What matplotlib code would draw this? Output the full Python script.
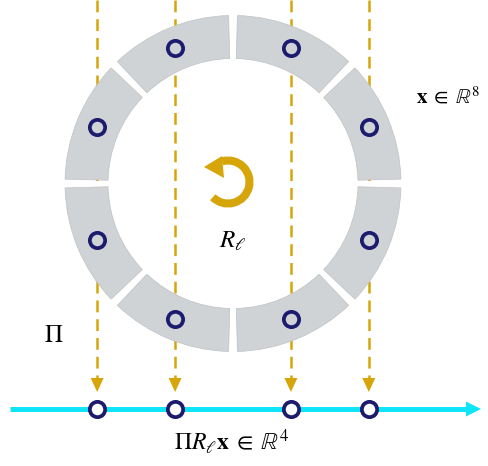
import numpy as np
import matplotlib
matplotlib.use('Agg')
import matplotlib.pyplot as plt
import matplotlib.patches as mpatches

plt.rcParams['mathtext.fontset'] = 'stix'
plt.rcParams['lines.scale_dashes'] = False

# ---- data -------------------------------------------------------------
# 8 coordinates of x placed around the ring (angle in degrees)
point_angles = [22.5, 66.8, 113.2, 157.5, 202.5, 246.8, 293.2, 337.5]
segment_starts = [0, 45, 90, 135, 180, 225, 270, 315]
segment_span = 45
label_x = r'$\mathbf{x}\;\in\;\mathbb{R}^8$'
label_rot = r'$R_\ell$'
label_proj = r'$\Pi$'
label_out = r'$\Pi R_\ell \mathbf{x}\;\in\;\mathbb{R}^4$'

# ---- styling / geometry ----------------------------------------------
W, H = 488, 466
CX, CY = 233, 282.5
R_OUT, R_IN = 168, 125
R_PT = 147
GAP = 3.0
LINE_Y = 57
SEG_COL = '#D0D3D5'
NAVY = '#1C1B6E'
GOLD = '#D6A50A'
CYAN = '#0FE4F8'

fig = plt.figure(figsize=(W / 100, H / 100), dpi=100)
ax = fig.add_axes([0, 0, 1, 1])
ax.set_xlim(0, W)
ax.set_ylim(0, H)
ax.axis('off')

# ring segments
for s in segment_starts:
    ax.add_patch(mpatches.Wedge((CX, CY), R_OUT, s + GAP / 2, s + segment_span - GAP / 2,
                                width=R_OUT - R_IN, facecolor=SEG_COL,
                                edgecolor='#BFC2C4', linewidth=0.5, zorder=2))

th = np.deg2rad(point_angles)
px = CX + R_PT * np.cos(th)
py = CY + R_PT * np.sin(th)
ax.plot(px, py, 'o', ms=11, mfc='none', mec=NAVY, mew=2.7, zorder=4)

# projection lines (dashed, behind the ring)
proj_x = sorted(set(np.round(px, 3)))
for x in proj_x:
    ax.plot([x, x], [H, 88], color=GOLD, lw=1.8, dashes=(8.5, 5.0), zorder=1,
            solid_capstyle='butt', dash_capstyle='butt')
    ax.add_patch(mpatches.Polygon([[x - 6.5, 88], [x + 6.5, 88], [x, 74]],
                                  closed=True, facecolor=GOLD, edgecolor='none', zorder=1))

# output axis
ax.plot([10, 468], [LINE_Y, LINE_Y], color=CYAN, lw=3.6, solid_capstyle='butt', zorder=3)
ax.add_patch(mpatches.Polygon([[466, LINE_Y + 7.5], [466, LINE_Y - 7.5], [481, LINE_Y]],
                              closed=True, facecolor=CYAN, edgecolor='none', zorder=3))
ax.plot(proj_x, [LINE_Y] * len(proj_x), 'o', ms=11, mfc='white', mec=NAVY, mew=2.7, zorder=5)

# rotation icon
rc = np.array([228, 284])
rr = 21.5
ax.add_patch(mpatches.Arc(rc, 2 * rr, 2 * rr, theta1=-135, theta2=106,
                          color=GOLD, lw=5.8, zorder=3))
head = np.array([[-24, 15], [-6, 26], [-4, 4]])
ax.add_patch(mpatches.Polygon(rc + head, closed=True,
                              facecolor=GOLD, edgecolor='none', zorder=3))

# labels
ax.text(448, 369, label_x, fontsize=15, ha='center', va='center')
ax.text(233, 225, label_rot, fontsize=18, ha='center', va='center')
ax.text(54, 131, label_proj, fontsize=18, ha='center', va='center')
ax.text(232, 24, label_out, fontsize=17, ha='center', va='center')

fig.savefig('out.png', dpi=100)
